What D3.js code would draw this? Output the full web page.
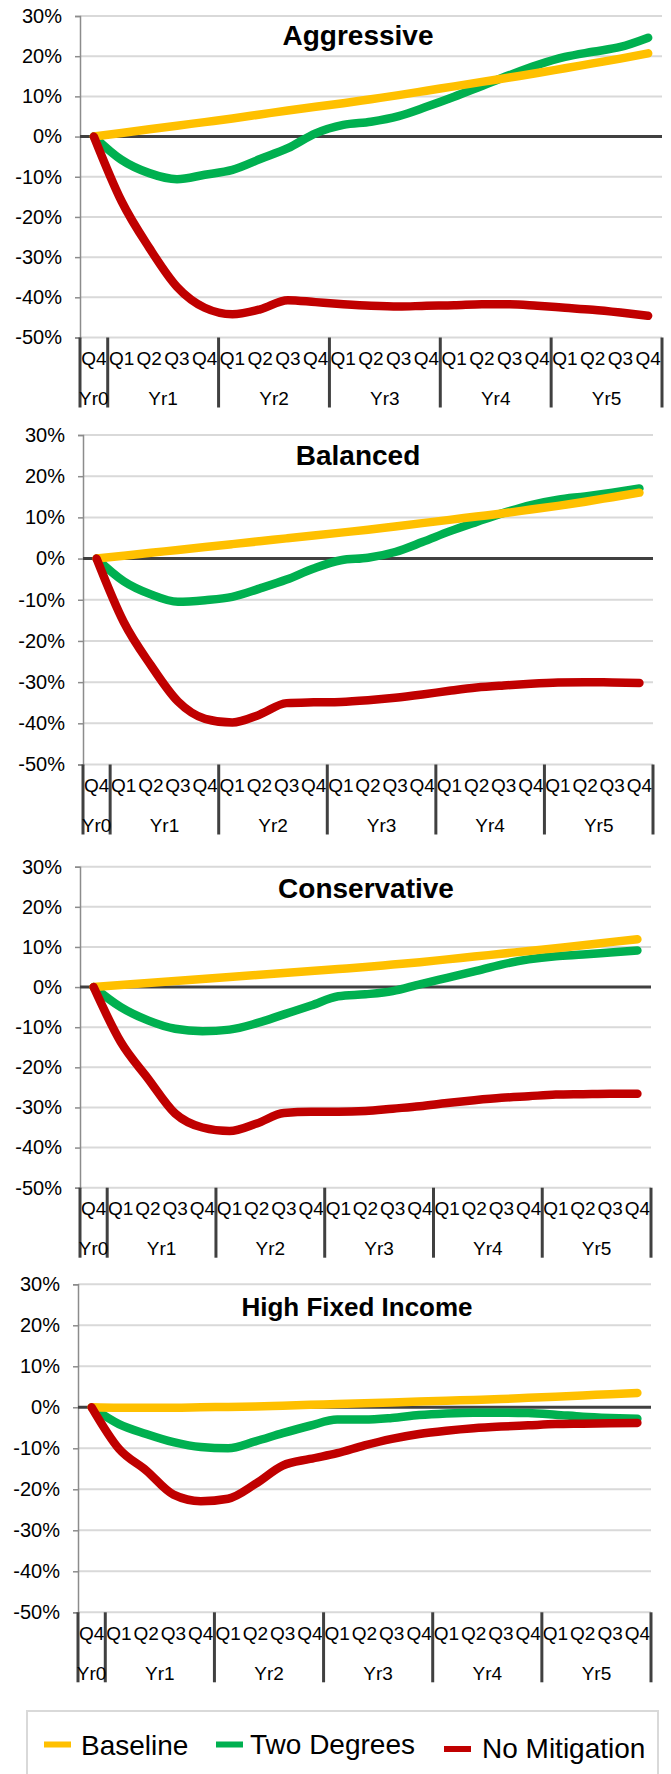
<!DOCTYPE html>
<html>
<head>
<meta charset="utf-8">
<script src="https://cdn.jsdelivr.net/npm/d3@7/dist/d3.min.js"></script>
<style>
  html, body { margin: 0; padding: 0; background: #ffffff; }
  svg { display: block; font-family: "Liberation Sans", Arial, sans-serif; }
</style>
</head>
<body>
<svg id="chart" width="671" height="1774"></svg>
<script>
// Periods: the last quarter of year 0, then four quarters for years 1 to 5
const quarterLabels = ["Q4",
  "Q1", "Q2", "Q3", "Q4",
  "Q1", "Q2", "Q3", "Q4",
  "Q1", "Q2", "Q3", "Q4",
  "Q1", "Q2", "Q3", "Q4",
  "Q1", "Q2", "Q3", "Q4"];
const yearLabels = ["Yr0", "Yr1", "Yr2", "Yr3", "Yr4", "Yr5"];
const yearQuarterCounts = [1, 4, 4, 4, 4, 4];
const yTickValues = [30, 20, 10, 0, -10, -20, -30, -40, -50];

const seriesNames = ["Baseline", "Two Degrees", "No Mitigation"];
const seriesColors = ["#FFC000", "#00B050", "#C00000"];

const portfolioNames = ["Aggressive", "Balanced", "Conservative", "High Fixed Income"];

// Cumulative return (%) per period
const aggressiveBaseline    = [0, 0.9, 1.8, 2.7, 3.6, 4.5, 5.5, 6.5, 7.4, 8.3, 9.3, 10.3, 11.4, 12.5, 13.6, 14.7, 15.8, 17.0, 18.2, 19.4, 20.7];
const aggressiveTwoDegrees  = [0, -5.8, -9.1, -10.6, -9.5, -8.3, -5.6, -2.9, 0.8, 2.9, 3.7, 5.1, 7.4, 9.9, 12.6, 15.3, 17.8, 19.8, 21.1, 22.3, 24.6];
const aggressiveNoMitig     = [0, -16.1, -27.7, -37.4, -42.6, -44.2, -43.0, -40.7, -41.2, -41.7, -42.1, -42.3, -42.1, -42.0, -41.7, -41.7, -42.1, -42.6, -43.1, -43.8, -44.6];

const balancedBaseline      = [0, 0.7, 1.4, 2.1, 2.8, 3.5, 4.2, 4.9, 5.6, 6.3, 7.0, 7.8, 8.6, 9.4, 10.2, 11.0, 11.9, 12.8, 13.8, 14.9, 16.0];
const balancedTwoDegrees    = [0, -5.5, -8.7, -10.5, -10.1, -9.3, -7.3, -5.1, -2.4, -0.4, 0.2, 1.6, 4.0, 6.6, 8.9, 11.1, 13.0, 14.3, 15.1, 16.0, 17.0];
const balancedNoMitig       = [0, -15.4, -25.9, -34.7, -38.9, -39.8, -37.9, -35.1, -34.9, -34.8, -34.4, -33.8, -33.0, -32.1, -31.3, -30.8, -30.4, -30.1, -30.0, -30.1, -30.2];

const conservativeBaseline  = [0, 0.5, 1.0, 1.5, 2.0, 2.5, 3.0, 3.5, 4.0, 4.5, 5.0, 5.6, 6.2, 6.9, 7.6, 8.3, 9.0, 9.7, 10.4, 11.2, 11.9];
const conservativeTwoDeg    = [0, -5.0, -8.3, -10.4, -11.0, -10.6, -9.0, -6.8, -4.6, -2.3, -1.8, -1.0, 0.7, 2.3, 3.9, 5.6, 6.9, 7.7, 8.1, 8.6, 9.1];
const conservativeNoMitig   = [0, -13.7, -22.8, -31.5, -35.0, -35.9, -34.0, -31.4, -31.1, -31.1, -30.9, -30.3, -29.7, -28.9, -28.2, -27.6, -27.2, -26.8, -26.7, -26.6, -26.6];

const highFixedBaseline     = [0, -0.1, -0.1, -0.1, 0, 0.1, 0.2, 0.4, 0.6, 0.8, 1.0, 1.2, 1.4, 1.6, 1.8, 2.0, 2.3, 2.6, 2.9, 3.2, 3.5];
const highFixedTwoDegrees   = [0, -4.1, -6.5, -8.5, -9.7, -10.0, -8.3, -6.3, -4.5, -3.0, -3.0, -2.6, -1.9, -1.5, -1.3, -1.3, -1.4, -1.8, -2.3, -2.6, -2.8];
const highFixedNoMitig      = [0, -10.1, -15.4, -21.3, -22.9, -22.3, -18.7, -14.2, -12.6, -11.2, -9.3, -7.7, -6.5, -5.7, -5.1, -4.7, -4.4, -4.1, -4.0, -3.9, -3.8];

const portfolioSeries = [
  [aggressiveBaseline, aggressiveTwoDegrees, aggressiveNoMitig],
  [balancedBaseline, balancedTwoDegrees, balancedNoMitig],
  [conservativeBaseline, conservativeTwoDeg, conservativeNoMitig],
  [highFixedBaseline, highFixedTwoDegrees, highFixedNoMitig]
];

// Panel frames: plot left/right, top (30%) and bottom (-50%), title anchor
const panelFrames = [
  { left: 80, right: 662, top: 16,     bottom: 337.5,  titleX: 358, titleY: 45,   titleSize: 28 },
  { left: 83, right: 653, top: 435,    bottom: 764.5,  titleX: 358, titleY: 465,  titleSize: 28 },
  { left: 80, right: 651, top: 866.7,  bottom: 1187.7, titleX: 366, titleY: 898,  titleSize: 28 },
  { left: 78, right: 651, top: 1284.3, bottom: 1612.3, titleX: 357, titleY: 1316, titleSize: 26 }
];

const periodKeys = quarterLabels.map((q, i) => i);
const svg = d3.select("#chart");

panelFrames.forEach((frame, p) => {
  const g = svg.append("g");
  const x = d3.scaleBand().domain(periodKeys).range([frame.left, frame.right]).padding(0);
  const y = d3.scaleLinear().domain([-50, 30]).range([frame.bottom, frame.top]);

  // horizontal gridlines
  g.append("g").selectAll("line")
    .data(yTickValues.filter(v => v !== 0))
    .join("line")
    .attr("x1", frame.left).attr("x2", frame.right)
    .attr("y1", d => y(d)).attr("y2", d => y(d))
    .attr("stroke", "#D9D9D9").attr("stroke-width", 2);

  // y axis with percentage labels
  const yAxis = d3.axisLeft(y)
    .tickValues(yTickValues)
    .tickSize(5)
    .tickPadding(13)
    .tickFormat(d => d + "%");
  const ya = g.append("g").attr("transform", `translate(${frame.left},0)`).call(yAxis);
  ya.attr("font-size", null).attr("font-family", null);
  ya.select(".domain").attr("stroke", "#8C8C8C").attr("stroke-width", 1.5);
  ya.selectAll(".tick line").attr("stroke", "#8C8C8C").attr("stroke-width", 1.5);
  ya.selectAll(".tick text")
    .attr("fill", "#000")
    .style("font-size", "20px")
    .style("font-family", "'Liberation Sans', Arial, sans-serif");

  // zero line
  g.append("line")
    .attr("x1", frame.left).attr("x2", frame.right)
    .attr("y1", y(0)).attr("y2", y(0))
    .attr("stroke", "#404040").attr("stroke-width", 3);

  // quarter labels
  g.append("g").selectAll("text")
    .data(quarterLabels)
    .join("text")
    .attr("x", (d, i) => x(i) + x.bandwidth() / 2)
    .attr("y", frame.bottom + 21)
    .attr("dy", "0.35em")
    .attr("text-anchor", "middle")
    .style("font-size", "19px")
    .attr("fill", "#000")
    .text(d => d);

  // year groups: separators and centred labels
  let startIdx = 0;
  const groups = yearLabels.map((lab, k) => {
    const s = startIdx;
    startIdx += yearQuarterCounts[k];
    return { label: lab, start: s, end: startIdx - 1 };
  });
  const sepX = [frame.left].concat(groups.map(gr => x(gr.end) + x.bandwidth()));
  g.append("g").selectAll("line")
    .data(sepX)
    .join("line")
    .attr("x1", d => d).attr("x2", d => d)
    .attr("y1", frame.bottom).attr("y2", frame.bottom + 70)
    .attr("stroke", "#404040").attr("stroke-width", 3);
  g.append("g").selectAll("text")
    .data(groups)
    .join("text")
    .attr("x", d => (x(d.start) + x(d.end) + x.bandwidth()) / 2)
    .attr("y", frame.bottom + 61)
    .attr("dy", "0.35em")
    .attr("text-anchor", "middle")
    .style("font-size", "19px")
    .attr("fill", "#000")
    .text(d => d.label);

  // series lines
  const line = d3.line()
    .x((d, i) => x(i) + x.bandwidth() / 2)
    .y(d => y(d))
    .curve(d3.curveMonotoneX);
  const drawOrder = [1, 0, 2];
  drawOrder.forEach(s => {
    g.append("path")
      .datum(portfolioSeries[p][s])
      .attr("d", line)
      .attr("fill", "none")
      .attr("stroke", seriesColors[s])
      .attr("stroke-width", 8.5)
      .attr("stroke-linecap", "round")
      .attr("stroke-linejoin", "round");
  });

  // panel title
  g.append("text")
    .attr("x", frame.titleX)
    .attr("y", frame.titleY)
    .attr("text-anchor", "middle")
    .style("font-size", frame.titleSize + "px")
    .style("font-weight", "bold")
    .attr("fill", "#000")
    .text(portfolioNames[p]);
});

// legend
const legendBox = { x: 27, y: 1711, w: 631, h: 80 };
const legendItems = [
  { sx: 44, tx: 81, cy: 1744.5, by: 1754.5 },
  { sx: 216, tx: 250, cy: 1744.5, by: 1754 },
  { sx: 444, tx: 482, cy: 1749, by: 1758 }
];
const lg = svg.append("g");
lg.append("rect")
  .attr("x", legendBox.x).attr("y", legendBox.y)
  .attr("width", legendBox.w).attr("height", legendBox.h)
  .attr("fill", "#fff").attr("stroke", "#D9D9D9").attr("stroke-width", 2);
legendItems.forEach((it, i) => {
  lg.append("rect")
    .attr("x", it.sx).attr("y", it.cy - 3)
    .attr("width", 27).attr("height", 6)
    .attr("fill", seriesColors[i]);
  lg.append("text")
    .attr("x", it.tx).attr("y", it.by)
    .style("font-size", "28px")
    .attr("fill", "#000")
    .text(seriesNames[i]);
});
</script>
</body>
</html>
